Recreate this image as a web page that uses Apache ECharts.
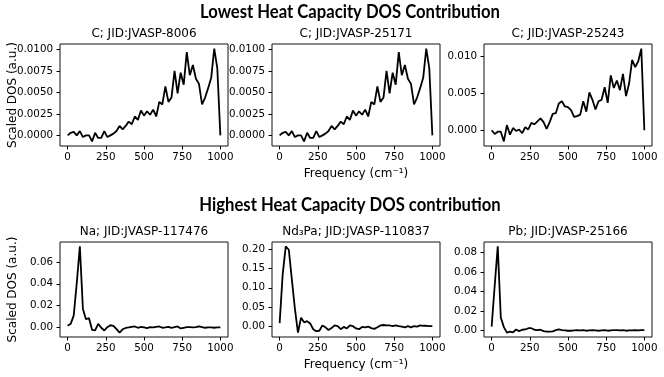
<!DOCTYPE html>
<html>
<head>
<meta charset="utf-8">
<script src="https://cdn.jsdelivr.net/npm/echarts@6/dist/echarts.min.js"></script>
<style>
  html, body { margin: 0; padding: 0; background: #fff; }
  #chart { width: 664px; height: 377px; }
</style>
</head>
<body>
<div id="chart"></div>
<script>
// frequency grid (cm^-1), shared by every panel
const freq = [0, 20, 40, 60, 80, 100, 120, 140, 160, 180, 200, 220, 240, 260, 280, 300, 320, 340, 360, 380,
  400, 420, 440, 460, 480, 500, 520, 540, 560, 580, 600, 620, 640, 660, 680, 700, 720, 740, 760, 780,
  800, 820, 840, 860, 880, 900, 920, 940, 960, 980, 1000];

// lowest heat capacity contribution
const dos8006 = [0.0000, 0.0003, 0.0004, 0.0000, 0.0005, -0.0002, 0.0000, 0.0000, -0.0007, 0.0003,
  -0.0003, -0.0003, 0.0005, -0.0002, 0.0000, 0.0002, 0.0005, 0.0011, 0.0007, 0.0011,
  0.0016, 0.0013, 0.0022, 0.0018, 0.0029, 0.0023, 0.0028, 0.0024, 0.0030, 0.0022,
  0.0039, 0.0036, 0.0057, 0.0039, 0.0044, 0.0075, 0.0049, 0.0073, 0.0059, 0.0097,
  0.0070, 0.0082, 0.0066, 0.0060, 0.0036, 0.0044, 0.0055, 0.0067, 0.0101, 0.0078, 0.0000];
const dos25171 = [0.0000, 0.0003, 0.0004, 0.0000, 0.0005, -0.0002, 0.0000, 0.0000, -0.0007, 0.0003,
  -0.0003, -0.0003, 0.0005, -0.0002, 0.0000, 0.0002, 0.0005, 0.0011, 0.0007, 0.0011,
  0.0016, 0.0013, 0.0022, 0.0018, 0.0029, 0.0023, 0.0028, 0.0024, 0.0030, 0.0022,
  0.0039, 0.0036, 0.0057, 0.0039, 0.0044, 0.0075, 0.0049, 0.0073, 0.0059, 0.0097,
  0.0070, 0.0082, 0.0066, 0.0060, 0.0036, 0.0044, 0.0055, 0.0067, 0.0101, 0.0078, 0.0000];
const dos25243 = [0.0000, -0.0005, -0.0002, -0.0002, -0.0015, 0.0007, -0.0006, 0.0003, -0.0001, 0.0001,
  -0.0004, 0.0004, 0.0001, 0.0010, 0.0008, 0.0012, 0.0016, 0.0011, 0.0002, 0.0011,
  0.0022, 0.0023, 0.0036, 0.0039, 0.0032, 0.0031, 0.0027, 0.0018, 0.0019, 0.0021,
  0.0039, 0.0025, 0.0051, 0.0041, 0.0028, 0.0039, 0.0041, 0.0058, 0.0037, 0.0074,
  0.0057, 0.0067, 0.0054, 0.0076, 0.0046, 0.0063, 0.0095, 0.0085, 0.0093, 0.0110, 0.0000];

// highest heat capacity contribution
const dos117476 = [0.0015, 0.0033, 0.0110, 0.0410, 0.0743, 0.0170, 0.0075, 0.0085, -0.0022, -0.0027,
  0.0033, -0.0003, -0.0028, 0.0002, 0.0020, 0.0015, -0.0016, -0.0048, -0.0017, -0.0005,
  0.0000, 0.0006, 0.0009, -0.0003, 0.0006, 0.0000, -0.0006, 0.0003, 0.0000, 0.0006,
  0.0009, -0.0003, 0.0000, 0.0006, -0.0003, 0.0003, 0.0009, -0.0009, -0.0003, 0.0003,
  0.0003, 0.0000, 0.0003, 0.0009, 0.0003, -0.0003, 0.0000, 0.0000, -0.0003, 0.0000, 0.0000];
const dos110837 = [0.008, 0.135, 0.208, 0.199, 0.122, 0.045, -0.017, 0.022, 0.010, 0.013,
  0.007, -0.008, -0.013, -0.012, 0.002, -0.003, -0.010, -0.005, 0.002, 0.000,
  -0.008, -0.002, -0.006, 0.002, 0.000, -0.006, -0.008, -0.002, -0.003, -0.001,
  -0.005, -0.007, -0.003, 0.002, 0.003, 0.002, 0.002, 0.000, 0.002, 0.000,
  -0.001, -0.003, 0.000, -0.003, 0.000, -0.001, 0.002, 0.001, 0.001, 0.000, 0.000];
const dos25166 = [0.0040, 0.0460, 0.0866, 0.0134, 0.0034, -0.0023, -0.0013, -0.0020, 0.0010, -0.0007,
  0.0007, 0.0010, 0.0023, 0.0023, 0.0007, 0.0003, 0.0007, -0.0007, -0.0013, -0.0013,
  -0.0010, 0.0003, 0.0010, 0.0003, 0.0000, -0.0003, -0.0003, 0.0000, 0.0003, 0.0000,
  0.0003, -0.0003, 0.0000, 0.0003, 0.0000, -0.0003, 0.0000, 0.0003, -0.0003, 0.0000,
  0.0003, 0.0003, 0.0000, 0.0003, -0.0003, 0.0000, 0.0000, 0.0003, 0.0000, 0.0003, 0.0003];

const panelTitles = ["C; JID:JVASP-8006", "C; JID:JVASP-25171", "C; JID:JVASP-25243",
  "Na; JID:JVASP-117476", "Nd₃Pa; JID:JVASP-110837", "Pb; JID:JVASP-25166"];
const panelData = [dos8006, dos25171, dos25243, dos117476, dos110837, dos25166];
const rowTitles = ["Lowest Heat Capacity DOS Contribution", "Highest Heat Capacity DOS contribution"];

// tick labels
const xTicks = [0, 250, 500, 750, 1000];
const yTicks = [
  [0, 0.0025, 0.005, 0.0075, 0.01],
  [0, 0.0025, 0.005, 0.0075, 0.01],
  [0, 0.005, 0.01],
  [0, 0.02, 0.04, 0.06],
  [0, 0.05, 0.10, 0.15, 0.20],
  [0, 0.02, 0.04, 0.06, 0.08]
];
const yDigits = [4, 4, 3, 2, 2, 2];

const colLeft = [60, 272, 484];
const rowTop = [44, 242];
const rowHeight = [102, 95];
const tickFont = { fontFamily: "DejaVu Sans", fontSize: 10.3, color: "#000" };
const labelFont = { fontFamily: "DejaVu Sans", fontSize: 12, color: "#000" };

// condensed bold headings: squeeze a bold face to the width seen in the picture
const headFont = "bold 19px Lato, 'Liberation Sans', sans-serif";
const ctx = document.createElement("canvas").getContext("2d");
ctx.font = headFont;
const headScale = 300 / ctx.measureText(rowTitles[0]).width;

const chart = echarts.init(document.getElementById("chart"), null, { renderer: "canvas" });

const grids = [], xAxes = [], yAxes = [], series = [], titles = [];

panelData.forEach((vals, i) => {
  const row = Math.floor(i / 3), col = i % 3;
  const lo = Math.min(...vals), hi = Math.max(...vals);
  const pad = (hi - lo) * 0.05;
  grids.push({
    left: colLeft[col], top: rowTop[row], width: 168, height: rowHeight[row],
    show: true, borderColor: "#111", borderWidth: 1, backgroundColor: "#fff"
  });
  titles.push({
    text: panelTitles[i], left: colLeft[col] + 84, textAlign: "center",
    top: rowTop[row] - 16, padding: 0,
    textStyle: { fontFamily: "DejaVu Sans", fontWeight: "normal", fontSize: 12, color: "#000" }
  });
  xAxes.push({
    type: "value", gridIndex: i, min: -50, max: 1050,
    splitLine: { show: false }, axisLine: { show: false, onZero: false },
    axisTick: { show: true, length: 3.5, customValues: xTicks, lineStyle: { color: "#000" } },
    axisLabel: { customValues: xTicks, margin: 6, formatter: v => String(v), ...tickFont },
    name: col === 1 ? "Frequency (cm⁻¹)" : "", nameLocation: "middle", nameGap: 22,
    nameTextStyle: labelFont
  });
  yAxes.push({
    type: "value", gridIndex: i, min: lo - pad, max: hi + pad,
    splitLine: { show: false }, axisLine: { show: false, onZero: false },
    axisTick: { show: true, length: 3.5, customValues: yTicks[i], lineStyle: { color: "#000" } },
    axisLabel: { customValues: yTicks[i], margin: 7, formatter: v => v.toFixed(yDigits[i]), ...tickFont },
    name: col === 0 ? "Scaled DOS (a.u.)" : "", nameLocation: "middle", nameGap: 41,
    nameMoveOverlap: false,
    nameTextStyle: labelFont
  });
  series.push({
    type: "line", xAxisIndex: i, yAxisIndex: i, showSymbol: false,
    lineStyle: { color: "#000", width: 1.8 },
    data: freq.map((f, j) => [f, vals[j]])
  });
});

chart.setOption({
  animation: false,
  backgroundColor: "#fff",
  title: titles,
  grid: grids,
  xAxis: xAxes,
  yAxis: yAxes,
  series: series,
  graphic: rowTitles.map((t, r) => ({
    type: "text", x: 350, y: r === 0 ? 12 : 205, scaleX: headScale,
    style: { text: t, font: headFont, fill: "#000", textAlign: "center", textVerticalAlign: "middle" }
  }))
});
</script>
</body>
</html>
